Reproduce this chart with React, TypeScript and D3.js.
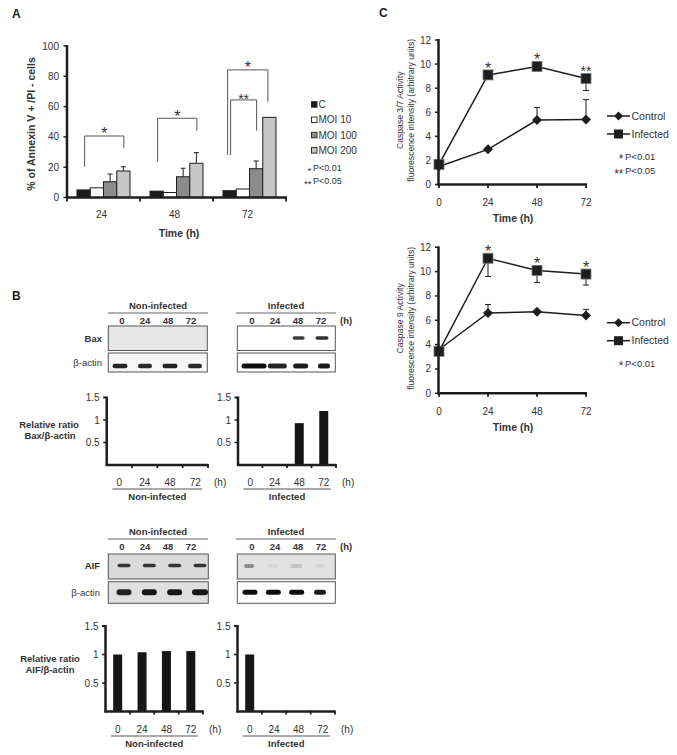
import React from "react";
import * as d3 from "d3";

// ---------------- DATA ----------------
const timeGroups = ["24", "48", "72"];
const moiSeries = ["C", "MOI 10", "MOI 100", "MOI 200"];
const annexinC = [5, 4.2, 4.5];
const annexinMoi10 = [6.4, 3.3, 5.6];
const annexinMoi100 = [10.4, 13.7, 19];
const annexinMoi200 = [17.5, 22.6, 52.9];
const annexinMoi100Err = [5.1, 5.6, 5.1];
const annexinMoi200Err = [2.8, 7.0, 0];
const annexinTicks = [0, 20, 40, 60, 80, 100];
const annexinBrackets = [
  { group: "24", from: "C", to: "MOI 200", leftBase: 20.3, top: 40.6, rightBase: 32.7, label: "*", outer: false },
  { group: "48", from: "C", to: "MOI 200", leftBase: 23.6, top: 52.3, rightBase: 44, label: "*", outer: false },
  { group: "72", from: "C", to: "MOI 200", leftBase: 28, top: 84.2, rightBase: 63.2, label: "*", outer: true },
  { group: "72", from: "C", to: "MOI 100", leftBase: 28, top: 64.4, rightBase: 44, label: "**", outer: false },
];
const pLegendA = [
  { stars: "*", text: "P<0.01" },
  { stars: "**", text: "P<0.05" },
];

const caspaseTimes = [0, 24, 48, 72];
const caspaseTicks = [0, 2, 4, 6, 8, 10, 12];
const casp37Control = [1.5, 2.92, 5.35, 5.4];
const casp37ControlErr = [0, 0, 1.05, 1.65];
const casp37Infected = [1.67, 9.1, 9.8, 8.8];
const casp37InfectedErr = [0, 0, 0, 1.0];
const casp37Sig = ["", "*", "*", "**"];
const casp37PLegend = [
  { stars: "*", text: "P<0.01" },
  { stars: "**", text: "P<0.05" },
];
const casp9Control = [3.6, 6.6, 6.7, 6.4];
const casp9ControlErr = [0, 0.7, 0, 0.5];
const casp9Infected = [3.45, 11.1, 10.1, 9.8];
const casp9InfectedErr = [0, 1.5, 1.0, 0.9];
const casp9Sig = ["", "*", "*", "*"];
const casp9PLegend = [{ stars: "*", text: "P<0.01" }];

const lanes = ["0", "24", "48", "72"];
const ratioTicks = [0.5, 1, 1.5];
const baxRatioNon = [0, 0, 0, 0];
const baxRatioInf = [0, 0, 0.93, 1.2];
const aifRatioNon = [1.0, 1.04, 1.06, 1.06];
const aifRatioInf = [1.0, 0, 0, 0];
// blot band intensities (0..1)
const baxBandsNon = [0, 0, 0, 0];
const baxBandsInf = [0, 0, 0.8, 0.85];
const actinTopNon = [0.9, 0.88, 0.9, 0.88];
const actinTopInf = [1, 0.9, 0.95, 0.95];
const aifBandsNon = [0.8, 0.8, 0.8, 0.8];
const aifBandsInf = [0.4, 0.06, 0.14, 0.06];
const actinBottomNon = [0.9, 0.95, 0.95, 0.95];
const actinBottomInf = [1, 1, 1, 0.95];

// ---------------- STYLE ----------------
const FONT = "'Liberation Sans', Arial, Helvetica, sans-serif";
const INK = "#1e1e1e";
const TXT = "#333";

const seriesFill: Record<string, string> = {
  C: "#1c1c1c",
  "MOI 10": "#ffffff",
  "MOI 100": "#8c8c8c",
  "MOI 200": "#c6c6c6",
};

function Star({ x, y, s }: { x: number; y: number; s: string }) {
  const size = s.length > 1 ? 14 : 16;
  return (
    <text x={x} y={y} dy="0.58em" textAnchor="middle" fontSize={size} fill={TXT} fontFamily={FONT}>
      {s}
    </text>
  );
}

function PLegendRow({ x, y, stars, text, starSize = 11, textSize = 9.5 }: { x: number; y: number; stars: string; text: string; starSize?: number; textSize?: number }) {
  return (
    <text fontFamily={FONT} fill={TXT}>
      <tspan x={x - 1.5} y={y} dy="0.58em" textAnchor="end" fontSize={starSize}>{stars}</tspan>
      <tspan x={x} y={y} dy="0.35em" textAnchor="start" fontSize={textSize}>{text}</tspan>
    </text>
  );
}

function PanelA() {
  const y = d3.scaleLinear().domain([0, 100]).range([197.5, 46]);
  const x = d3.scaleBand().domain(timeGroups).range([67, 286]);
  const xi = d3.scaleBand().domain(moiSeries).range([10, 63]);
  const values = [annexinC, annexinMoi10, annexinMoi100, annexinMoi200];
  const errs = [[0, 0, 0], [0, 0, 0], annexinMoi100Err, annexinMoi200Err];
  const cx = (g: string, s: string) => (x(g) as number) + (xi(s) as number) + xi.bandwidth() / 2;
  const bounds = [...timeGroups.map((g) => x(g) as number), 286];
  return (
    <g>
      <text x={12} y={14} dy="0.35em" fontSize={12} fontWeight="bold" fill={INK} fontFamily={FONT}>A</text>
      {timeGroups.map((g, gi) =>
        moiSeries.map((s, si) => {
          const v = values[si][gi];
          const bx = (x(g) as number) + (xi(s) as number);
          const e = errs[si][gi];
          return (
            <g key={g + s}>
              <rect x={bx} y={y(v)} width={xi.bandwidth()} height={y(0) - y(v)} fill={seriesFill[s]} stroke={INK} strokeWidth={1} />
              {e > 0 && (
                <g stroke={INK} strokeWidth={1}>
                  <line x1={cx(g, s)} x2={cx(g, s)} y1={y(v)} y2={y(v + e)} />
                  <line x1={cx(g, s) - 2.5} x2={cx(g, s) + 2.5} y1={y(v + e)} y2={y(v + e)} />
                </g>
              )}
            </g>
          );
        })
      )}
      {annexinBrackets.map((b, i) => {
        const lx = cx(b.group, b.from) + (b.outer ? -2 : 1);
        const rx = cx(b.group, b.to) + (b.outer ? -1.5 : 0.5);
        return (
          <g key={i}>
            <path d={`M${lx},${y(b.leftBase)}V${y(b.top)}H${rx}V${y(b.rightBase)}`} fill="none" stroke="#555" strokeWidth={1} />
            <Star x={(lx + rx) / 2} y={y(b.top) - (b.label.length > 1 ? 4 : 6)} s={b.label} />
          </g>
        );
      })}
      <line x1={67} x2={67} y1={45} y2={198.5} stroke={INK} strokeWidth={2.5} />
      <line x1={66} x2={287} y1={197.5} y2={197.5} stroke={INK} strokeWidth={2.5} />
      {annexinTicks.map((t) => (
        <g key={t}>
          <line x1={63.5} x2={67} y1={y(t)} y2={y(t)} stroke={INK} strokeWidth={1.5} />
          <text x={59} y={y(t)} dy="0.35em" textAnchor="end" fontSize={10} fill={TXT} fontFamily={FONT}>{t}</text>
        </g>
      ))}
      {bounds.map((b) => (
        <line key={b} x1={b} x2={b} y1={197.5} y2={201.5} stroke={INK} strokeWidth={1.8} />
      ))}
      {timeGroups.map((g) => (
        <text key={g} x={(x(g) as number) + x.bandwidth() / 2 - 2} y={214} dy="0.35em" textAnchor="middle" fontSize={10} fill={TXT} fontFamily={FONT}>{g}</text>
      ))}
      <text x={179} y={233} dy="0.35em" textAnchor="middle" fontSize={10.5} fontWeight="bold" fill={TXT} fontFamily={FONT}>Time (h)</text>
      <text transform="translate(31,124) rotate(-90)" dy="0.35em" textAnchor="middle" fontSize={10.5} fontWeight="bold" fill={TXT} fontFamily={FONT}>% of Annexin V + /PI - cells</text>
      {moiSeries.map((s, i) => {
        const ly = 104.5 + i * 15.3;
        return (
          <g key={s}>
            <rect x={311.5} y={ly - 2.8} width={5.5} height={5.5} fill={seriesFill[s]} stroke={INK} strokeWidth={0.9} />
            <text x={318.5} y={ly} dy="0.35em" fontSize={10} fill={TXT} fontFamily={FONT}>{s}</text>
          </g>
        );
      })}
      {pLegendA.map((p, i) => (
        <PLegendRow key={p.text} x={313} y={168 + i * 13} stars={p.stars} text={p.text} starSize={9.5} textSize={9} />
      ))}
    </g>
  );
}

function diamond(cx: number, cy: number, r: number) {
  return `M${cx},${cy - r}L${cx + r},${cy}L${cx},${cy + r}L${cx - r},${cy}Z`;
}

function LinePanel(props: {
  y0: number; y12: number; control: number[]; controlErr: number[]; infected: number[]; infectedErr: number[];
  sig: string[]; title: string; legendY: number; pEntries: { stars: string; text: string }[];
}) {
  const { y0, y12, control, controlErr, infected, infectedErr, sig, title, legendY, pEntries } = props;
  const x = d3.scaleLinear().domain([0, 72]).range([439, 586]);
  const y = d3.scaleLinear().domain([0, 12]).range([y0, y12]);
  const line = d3.line<number>().x((_, i) => x(caspaseTimes[i])).y((d) => y(d));
  const mid = (y0 + y12) / 2;
  return (
    <g>
      {control.map((v, i) => controlErr[i] > 0 && (
        <g key={"ce" + i} stroke={INK} strokeWidth={1}>
          <line x1={x(caspaseTimes[i])} x2={x(caspaseTimes[i])} y1={y(v)} y2={y(v + controlErr[i])} />
          <line x1={x(caspaseTimes[i]) - 3} x2={x(caspaseTimes[i]) + 3} y1={y(v + controlErr[i])} y2={y(v + controlErr[i])} />
        </g>
      ))}
      {infected.map((v, i) => infectedErr[i] > 0 && (
        <g key={"ie" + i} stroke={INK} strokeWidth={1}>
          <line x1={x(caspaseTimes[i])} x2={x(caspaseTimes[i])} y1={y(v)} y2={y(v - infectedErr[i])} />
          <line x1={x(caspaseTimes[i]) - 3} x2={x(caspaseTimes[i]) + 3} y1={y(v - infectedErr[i])} y2={y(v - infectedErr[i])} />
        </g>
      ))}
      <path d={line(control) as string} fill="none" stroke={INK} strokeWidth={1.5} />
      <path d={line(infected) as string} fill="none" stroke={INK} strokeWidth={1.5} />
      {control.map((v, i) => (
        <path key={"cm" + i} d={diamond(x(caspaseTimes[i]), y(v), 5)} fill={INK} />
      ))}
      {infected.map((v, i) => (
        <rect key={"im" + i} x={x(caspaseTimes[i]) - 5} y={y(v) - 5} width={10} height={10} fill={INK} stroke="#777" strokeWidth={0.8} />
      ))}
      {sig.map((s, i) => s && (
        <Star key={"s" + i} x={x(caspaseTimes[i])} y={y(infected[i]) - 10.5} s={s} />
      ))}
      <line x1={438.5} x2={438.5} y1={y12 - 1} y2={y0 + 1} stroke={INK} strokeWidth={2.5} />
      <line x1={437.5} x2={587} y1={y0} y2={y0} stroke={INK} strokeWidth={2.5} />
      {caspaseTicks.map((t) => (
        <g key={t}>
          <line x1={435} x2={438.5} y1={y(t)} y2={y(t)} stroke={INK} strokeWidth={1.5} />
          <text x={431} y={y(t)} dy="0.35em" textAnchor="end" fontSize={10} fill={TXT} fontFamily={FONT}>{t}</text>
        </g>
      ))}
      {caspaseTimes.map((t) => (
        <g key={t}>
          <line x1={x(t)} x2={x(t)} y1={y0} y2={y0 + 3.5} stroke={INK} strokeWidth={1.8} />
          <text x={x(t)} y={y0 + 18} dy="0.35em" textAnchor="middle" fontSize={10} fill={TXT} fontFamily={FONT}>{t}</text>
        </g>
      ))}
      <text x={513} y={y0 + 34} dy="0.35em" textAnchor="middle" fontSize={10.5} fontWeight="bold" fill={TXT} fontFamily={FONT}>Time (h)</text>
      <text transform={`translate(400,${mid - 2}) rotate(-90)`} dy="0.35em" textAnchor="middle" fontSize={8.6} fill={TXT} fontFamily={FONT}>{title}</text>
      <text transform={`translate(410.5,${mid - 2}) rotate(-90)`} dy="0.35em" textAnchor="middle" fontSize={8.6} fill={TXT} fontFamily={FONT}>fluorescence intensity (arbitrary units)</text>
      {["Control", "Infected"].map((name, i) => {
        const ly = legendY + i * 18;
        return (
          <g key={name}>
            <line x1={607} x2={630} y1={ly} y2={ly} stroke={INK} strokeWidth={1.5} />
            {i === 0 ? <path d={diamond(618.5, ly, 4.5)} fill={INK} /> : <rect x={614} y={ly - 4.5} width={9} height={9} fill={INK} />}
            <text x={631.5} y={ly} dy="0.35em" fontSize={10.5} fill={TXT} fontFamily={FONT}>{name}</text>
          </g>
        );
      })}
      {pEntries.map((p, i) => (
        <PLegendRow key={p.text} x={625} y={legendY + 40.5 + i * 14.5} stars={p.stars} text={p.text} starSize={12} />
      ))}
    </g>
  );
}

function Blot(props: {
  x: number; y: number; w: number; h: number; bg: string; bands: number[];
  laneRange: [number, number]; bandW: number[]; bandH: number; bandY: number;
}) {
  const { x, y, w, h, bg, bands, laneRange, bandW, bandH, bandY } = props;
  const lx = d3.scalePoint().domain(lanes).range(laneRange);
  return (
    <g>
      <rect x={x} y={y} width={w} height={h} fill={bg} stroke="#555" strokeWidth={1} />
      {bands.map((b, i) => b > 0 && (
        <rect key={i} x={(lx(lanes[i]) as number) - bandW[i] / 2} y={y + bandY - bandH / 2} width={bandW[i]} height={bandH}
          rx={bandH / 2} fill="#111" opacity={b} filter="url(#blur)" />
      ))}
    </g>
  );
}

function BlotHeader({ x, w, y, label, laneRange, showH }: { x: number; w: number; y: number; label: string; laneRange: [number, number]; showH: boolean }) {
  const lx = d3.scalePoint().domain(lanes).range(laneRange);
  return (
    <g fontFamily={FONT} fill={TXT} fontWeight="bold">
      <text x={x + w / 2} y={y} dy="0.35em" textAnchor="middle" fontSize={9.5}>{label}</text>
      <line x1={x} x2={x + w} y1={y + 7} y2={y + 7} stroke="#666" strokeWidth={1} />
      {lanes.map((l) => (
        <text key={l} x={lx(l) as number} y={y + 15} dy="0.35em" textAnchor="middle" fontSize={9.5}>{l}</text>
      ))}
      {showH && <text x={x + w + 4} y={y + 15} dy="0.35em" fontSize={9.5}>(h)</text>}
    </g>
  );
}

function RatioChart(props: { x0: number; x1: number; y0: number; y15: number; values: number[]; group: string; labelY: number }) {
  const { x0, x1, y0, y15, values, group, labelY } = props;
  const y = d3.scaleLinear().domain([0, 1.5]).range([y0, y15]);
  const x = d3.scaleBand().domain(lanes).range([x0, x1]);
  const bw = 9;
  const first = (x(lanes[0]) as number) + x.bandwidth() / 2;
  const last = (x(lanes[3]) as number) + x.bandwidth() / 2;
  return (
    <g fontFamily={FONT}>
      {values.map((v, i) => v > 0 && (
        <rect key={i} x={(x(lanes[i]) as number) + x.bandwidth() / 2 - bw / 2} y={y(v)} width={bw} height={y(0) - y(v)} fill="#161616" />
      ))}
      <line x1={x0} x2={x0} y1={y15 - 1} y2={y0 + 1} stroke={INK} strokeWidth={2.5} />
      <line x1={x0 - 1} x2={x1} y1={y0} y2={y0} stroke={INK} strokeWidth={2.5} />
      {ratioTicks.map((t) => (
        <g key={t}>
          <line x1={x0 - 3.5} x2={x0} y1={y(t)} y2={y(t)} stroke={INK} strokeWidth={t === 1.5 ? 2 : 1.5} />
          <text x={x0 - 7} y={y(t)} dy="0.35em" textAnchor="end" fontSize={10} fill={TXT}>{t}</text>
        </g>
      ))}
      {lanes.map((l) => (
        <line key={l} x1={(x(l) as number) + x.bandwidth()} x2={(x(l) as number) + x.bandwidth()} y1={y0 - 1} y2={y0 + 3} stroke={INK} strokeWidth={1.8} />
      ))}
      {lanes.map((l) => (
        <text key={l} x={(x(l) as number) + x.bandwidth() / 2} y={labelY} dy="0.35em" textAnchor="middle" fontSize={10} fill={TXT}>{l}</text>
      ))}
      <line x1={first - 7} x2={last + 7} y1={labelY + 7} y2={labelY + 7} stroke="#555" strokeWidth={1} />
      <text x={x1 + 6} y={labelY} dy="0.35em" fontSize={10} fill={TXT}>(h)</text>
      <text x={(first + last) / 2} y={labelY + 15} dy="0.35em" textAnchor="middle" fontSize={9.5} fontWeight="bold" fill={TXT}>{group}</text>
    </g>
  );
}

function PanelB() {
  const nonR: [number, number] = [122, 191];
  const infR: [number, number] = [252, 321];
  return (
    <g>
      <text x={12} y={296} dy="0.35em" fontSize={12} fontWeight="bold" fill={INK} fontFamily={FONT}>B</text>
      <BlotHeader x={108} w={100} y={306} label="Non-infected" laneRange={nonR} showH={false} />
      <BlotHeader x={236} w={100} y={306} label="Infected" laneRange={infR} showH={true} />
      <Blot x={108.3} y={326} w={99} h={24.5} bg="#e6e6e6" bands={baxBandsNon} laneRange={nonR} bandW={[12, 12, 12, 12]} bandH={3} bandY={12} />
      <Blot x={237.3} y={326} w={98} h={24.5} bg="#ffffff" bands={baxBandsInf} laneRange={[252, 322]} bandW={[12, 12, 12, 13]} bandH={3.5} bandY={12} />
      <Blot x={108.3} y={353} w={99} h={19} bg="#f6f6f6" bands={actinTopNon} laneRange={[120, 195]} bandW={[15, 14, 15, 14]} bandH={4.5} bandY={13} />
      <Blot x={237.3} y={353} w={98} h={19} bg="#ffffff" bands={actinTopInf} laneRange={[254, 324]} bandW={[25, 19, 15, 12]} bandH={5} bandY={13} />
      <g fontFamily={FONT} fontWeight="bold" fill={TXT} fontSize={9.5}>
        <text x={102} y={339} dy="0.35em" textAnchor="end">Bax</text>
        <text x={102} y={363} dy="0.35em" textAnchor="end" fontWeight="normal">β-actin</text>
        <text x={49} y={425} dy="0.35em" textAnchor="middle">Relative ratio</text>
        <text x={50} y={436} dy="0.35em" textAnchor="middle">Bax/β-actin</text>
      </g>
      <RatioChart x0={106.7} x1={208} y0={465} y15={397.5} values={baxRatioNon} group="Non-infected" labelY={482} />
      <RatioChart x0={238} x1={336} y0={465} y15={397.5} values={baxRatioInf} group="Infected" labelY={482} />
      <BlotHeader x={108} w={100} y={532} label="Non-infected" laneRange={nonR} showH={false} />
      <BlotHeader x={236} w={100} y={532} label="Infected" laneRange={infR} showH={true} />
      <Blot x={108.3} y={554} w={100} h={25} bg="#dadada" bands={aifBandsNon} laneRange={[124, 200]} bandW={[13, 13, 13, 13]} bandH={3.5} bandY={11.5} />
      <Blot x={237.3} y={554} w={98} h={25} bg="#e2e2e2" bands={aifBandsInf} laneRange={[249, 320]} bandW={[10, 10, 12, 10]} bandH={4} bandY={12} />
      <Blot x={108.3} y={581.7} w={100} h={21.6} bg="#e0e0e0" bands={actinBottomNon} laneRange={[124, 200]} bandW={[15, 15, 15, 16]} bandH={6} bandY={10.5} />
      <Blot x={237.3} y={581.7} w={98} h={21.6} bg="#ffffff" bands={actinBottomInf} laneRange={[250, 320]} bandW={[15, 15, 15, 12]} bandH={5} bandY={10.5} />
      <g fontFamily={FONT} fontWeight="bold" fill={TXT} fontSize={9.5}>
        <text x={100} y={566} dy="0.35em" textAnchor="end">AIF</text>
        <text x={100} y={593} dy="0.35em" textAnchor="end" fontWeight="normal">β-actin</text>
        <text x={50} y={659} dy="0.35em" textAnchor="middle">Relative ratio</text>
        <text x={50} y={670} dy="0.35em" textAnchor="middle">AIF/β-actin</text>
      </g>
      <RatioChart x0={105.5} x1={203} y0={711.5} y15={626} values={aifRatioNon} group="Non-infected" labelY={729} />
      <RatioChart x0={237.5} x1={335} y0={711.5} y15={626} values={aifRatioInf} group="Infected" labelY={729} />
    </g>
  );
}

export default function App() {
  return (
    <svg width={677} height={755} style={{ position: "absolute", left: 0, top: 0, background: "#fff" }}>
      <defs>
        <filter id="blur" x="-20%" y="-50%" width="140%" height="200%">
          <feGaussianBlur stdDeviation="0.6" />
        </filter>
      </defs>
      <rect width={677} height={755} fill="#fff" />
      <PanelA />
      <text x={379} y={13} dy="0.35em" fontSize={12} fontWeight="bold" fill={INK} fontFamily={FONT}>C</text>
      <LinePanel y0={184.5} y12={40} control={casp37Control} controlErr={casp37ControlErr} infected={casp37Infected}
        infectedErr={casp37InfectedErr} sig={casp37Sig} title="Caspase 3/7 Activity" legendY={116}
        pEntries={casp37PLegend} />
      <LinePanel y0={393.3} y12={247.3} control={casp9Control} controlErr={casp9ControlErr} infected={casp9Infected}
        infectedErr={casp9InfectedErr} sig={casp9Sig} title="Caspase 9 Activity" legendY={322.7}
        pEntries={casp9PLegend} />
      <PanelB />
    </svg>
  );
}
